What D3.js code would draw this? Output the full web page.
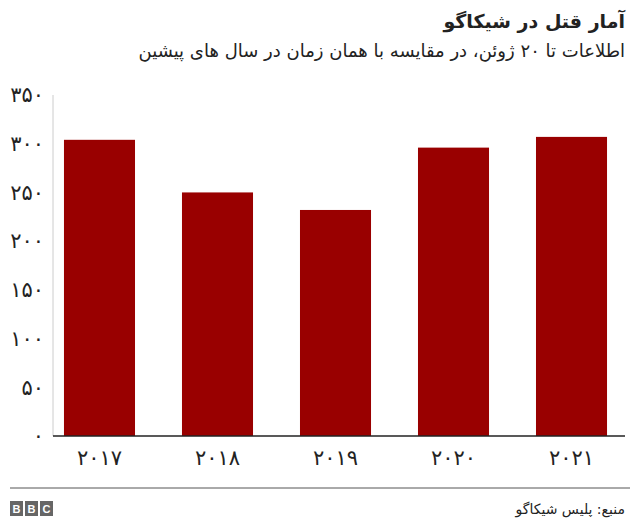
<!DOCTYPE html>
<html><head><meta charset="utf-8">
<script src="https://cdn.jsdelivr.net/npm/d3@7"></script>
<style>body{margin:0;background:#fff}svg{font-family:"DejaVu Sans","Noto Sans",sans-serif}</style>
</head><body><svg width="640" height="532"></svg>
<script>
const categories = ["2017","2018","2019","2020","2021"];
const values = [304, 250, 232, 296, 307];
const yTicks = [0,50,100,150,200,250,300,350];
const title = "آمار قتل در شیکاگو";
const subtitle = "اطلاعات تا ۲۰ ژوئن، در مقایسه با همان زمان در سال های پیشین";
const source = "منبع: پلیس شیکاگو";
const fa = s => String(s).replace(/\d/g, d => "۰۱۲۳۴۵۶۷۸۹"[d]);

const svg = d3.select("svg");
const x = d3.scaleBand().domain(categories).range([53, 618]).paddingInner(0.398).paddingOuter(0.093);
const y = d3.scaleLinear().domain([0, 350]).range([436, 95]);

svg.append("text").attr("x",625).attr("y",28).attr("text-anchor","end")
  .attr("font-size",19).attr("font-weight","bold").attr("fill","#222").text(title);
svg.append("text").attr("x",625).attr("y",57).attr("text-anchor","end")
  .attr("font-size",18).attr("fill","#222").text(subtitle);

svg.append("line").attr("x1",53).attr("x2",53).attr("y1",y(350)).attr("y2",y(0)).attr("stroke","#ccc");

svg.selectAll("rect.bar").data(values).join("rect").attr("class","bar")
  .attr("x",(d,i)=>x(categories[i])).attr("width",x.bandwidth())
  .attr("y",d=>y(d)).attr("height",d=>y(0)-y(d)).attr("fill","#990000");

const ya = svg.append("g").attr("transform","translate(53,0)")
  .call(d3.axisLeft(y).tickValues(yTicks).tickSize(0).tickPadding(9).tickFormat(fa));
ya.select(".domain").remove();
ya.selectAll("text").attr("font-size",21).attr("fill","#222").attr("font-family","DejaVu Sans");

svg.append("line").attr("x1",53).attr("x2",625).attr("y1",y(0)).attr("y2",y(0)).attr("stroke","#222").attr("stroke-width",1.5);

const xa = svg.append("g").attr("transform",`translate(0,${y(0)})`)
  .call(d3.axisBottom(x).tickSize(0).tickPadding(14).tickFormat(fa));
xa.select(".domain").remove();
xa.selectAll("text").attr("font-size",21).attr("fill","#222").attr("font-family","DejaVu Sans");

svg.append("line").attr("x1",10).attr("x2",630).attr("y1",488).attr("y2",488).attr("stroke","#555");
const logo = svg.append("g");
["B","B","C"].forEach((c,i)=>{
  logo.append("rect").attr("x",10+i*15).attr("y",501).attr("width",13).attr("height",15).attr("fill","#666");
  logo.append("text").attr("x",16.5+i*15).attr("y",513).attr("text-anchor","middle").attr("font-size",11)
    .attr("font-weight","bold").attr("fill","#fff").attr("font-family","Liberation Sans").text(c);
});
svg.append("text").attr("x",625).attr("y",514).attr("text-anchor","end")
  .attr("font-size",14).attr("fill","#222").text(source);
</script></body></html>
